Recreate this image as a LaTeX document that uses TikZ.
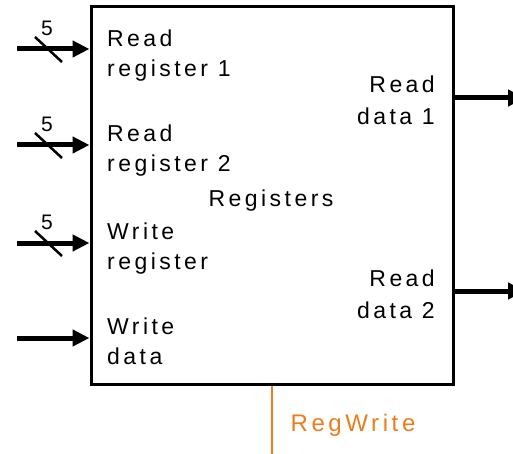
\documentclass[tikz,border=0pt]{standalone}
\usepackage{fontspec}
\setmainfont{Liberation Sans}[LetterSpace=15]
\usepackage{xcolor}
\usetikzlibrary{arrows.meta, positioning, calc}
\definecolor{ctrlorange}{RGB}{235,125,30}
\tikzset{
  regfile/.style={rectangle, draw=black, line width=3pt, minimum width=362pt,
    minimum height=377pt, inner sep=0pt},
  port/.style={anchor=base west, align=left, inner sep=0pt, font=\fontsize{23}{30}\selectfont},
  oport/.style={anchor=base east, align=right, inner sep=0pt, font=\fontsize{23}{32}\selectfont},
  bus/.style={line width=5pt, -{Triangle[length=17pt,width=16pt]}},
  width/.style={line width=2.5pt},
  wlbl/.style={inner sep=0pt, font=\fontsize{21}{21}\selectfont},
  ctrl/.style={ctrlorange, line width=2.5pt}
}

\begin{document}
\begin{tikzpicture}[x=1pt, y=-1pt]
  \useasboundingbox (0,0) rectangle (513,454);
  \node[regfile] (regs) at (272,195.5) {};
  \node[port, anchor=base] (regname) at (271,207) {Registers};

  % port names inside the register file (placed by their last line)
  \node[port] (rr1) at (107,77) {Read\\register 1};
  \node[port] (rr2) at (107,172) {Read\\register 2};
  \node[port] (wr) at (107,269) {Write\\register};
  \node[port] (wd) at (107,364) {Write\\data};
  \node[oport] (rd1) at (435,125) {Read\\data 1};
  \node[oport] (rd2) at (435,318) {Read\\data 2};

  % inputs, the three register numbers are 5 bits wide
  \foreach \y/\n in {49/1, 145/2, 243/3, 338/4} {
    \coordinate (in\n) at (17,\y);
    \draw[bus] (in\n) -- (in\n -| regs.west);
  }
  \foreach \n in {1,2,3} {
    \draw[width] ($(in\n)+(18,-12)$) -- ($(in\n)+(45,13)$);
    \node[wlbl] at ($(in\n)+(30,-21)$) {5};
  }

  % read data outputs
  \coordinate (out1) at (525,98);
  \coordinate (out2) at (525,291);
  \draw[bus] (out1 -| regs.east) -- (out1);
  \draw[bus] (out2 -| regs.east) -- (out2);

  % write enable
  \coordinate (wen) at (272,456);
  \draw[ctrl] (regs.south) -- (wen);
  \node[port, ctrlorange, anchor=base, font=\fontsize{24}{30}\selectfont] (rw) at (353,431) {RegWrite};
\end{tikzpicture}
\end{document}
